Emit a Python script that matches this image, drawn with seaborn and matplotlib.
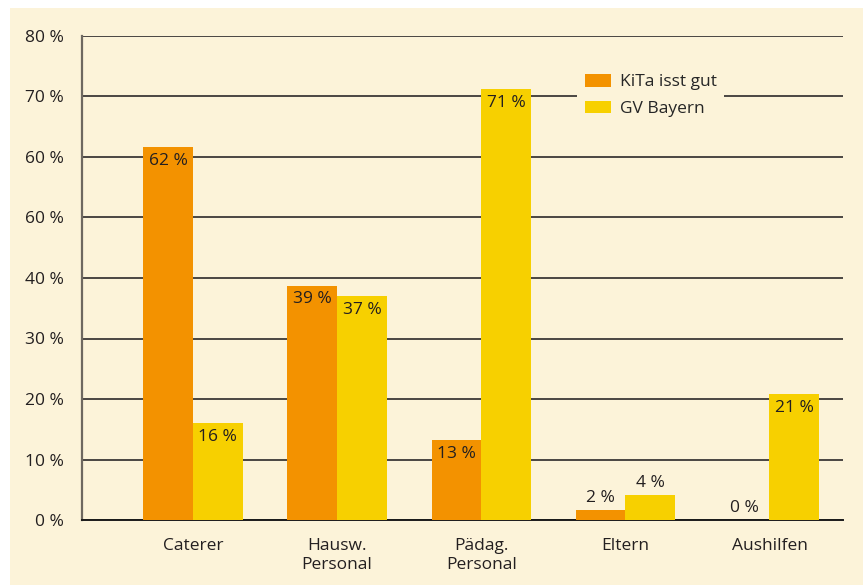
import pandas as pd
import matplotlib.pyplot as plt
import seaborn as sns
from matplotlib.patches import Rectangle

# data
categories = ["Caterer", "Hausw.\nPersonal", "Pädag.\nPersonal", "Eltern", "Aushilfen"]
kita = [61.6, 38.7, 13.2, 1.7, 0.0]
gv = [16.0, 37.0, 71.2, 4.1, 20.8]
series = ["KiTa isst gut", "GV Bayern"]
yticks = [0, 10, 20, 30, 40, 50, 60, 70, 80]
ytick_labels = ["0 %", "10 %", "20 %", "30 %", "40 %", "60 %", "60 %", "70 %", "80 %"]

bg = "#fcf3d9"
orange = "#f39200"
yellow = "#f7d000"
txtcol = "#231f20"

df = pd.DataFrame({
    "cat": categories * 2,
    "val": kita + gv,
    "series": [series[0]] * len(categories) + [series[1]] * len(categories),
})

sns.set_style("white")
plt.rcParams["font.family"] = ["Open Sans", "DejaVu Sans"]

W, H = 867, 585
fig = plt.figure(figsize=(W / 100, H / 100), dpi=100)
fig.patch.set_facecolor("white")
fig.patches.append(Rectangle((10 / W, 0), 853 / W, 1 - 8 / H, transform=fig.transFigure,
                             facecolor=bg, edgecolor="none", zorder=-10))

ax = fig.add_axes([82 / W, 1 - 520 / H, (843 - 82) / W, (520 - 36) / H])
ax.set_facecolor(bg)

sns.barplot(data=df, x="cat", y="val", hue="series", palette=[orange, yellow],
            saturation=1, width=0.69, linewidth=0, edgecolor="none",
            ax=ax, zorder=3, legend=True)

ax.set_ylim(0, 80)
ax.set_xlim(-0.77, 4.51)
ax.set_yticks(yticks)
ax.set_yticklabels(ytick_labels)
ax.grid(axis="y", color="#4a4642", linewidth=1.4, zorder=1)
ax.set_axisbelow(True)
ax.set_xlabel("")
ax.set_ylabel("")

for s in ["top", "right"]:
    ax.spines[s].set_visible(False)
ax.spines["left"].set_color("#6e6860")
ax.spines["left"].set_linewidth(1.6)
ax.spines["bottom"].set_color("#1a1a1a")
ax.spines["bottom"].set_linewidth(1.4)

ax.tick_params(axis="y", length=5, width=1.4, color="#4a4642", pad=8, labelsize=12.5, labelcolor=txtcol)
ax.tick_params(axis="x", length=0, pad=13, labelsize=12.5, labelcolor=txtcol)
for lab in ax.get_xticklabels():
    lab.set_linespacing(1.25)

# value labels
for cont in ax.containers:
    for bar in cont:
        h = bar.get_height()
        x = bar.get_x() + bar.get_width() / 2
        txt = f"{h:.0f} %"
        if h > 8:
            ax.annotate(txt, (x, h), xytext=(0, -4), textcoords="offset points",
                        ha="center", va="top", fontsize=12.5, color=txtcol, zorder=5)
        else:
            ax.annotate(txt, (x, h), xytext=(0, 3), textcoords="offset points",
                        ha="center", va="bottom", fontsize=12.5, color=txtcol, zorder=5)

leg = ax.legend(loc="upper left", bbox_to_anchor=(577 / W, 1 - 66 / H),
                bbox_transform=fig.transFigure, frameon=True, fontsize=12.5,
                handlelength=1.5, handleheight=0.75, borderpad=0.45, labelspacing=0.6,
                handletextpad=0.5, borderaxespad=0)
leg.get_frame().set_facecolor(bg)
leg.get_frame().set_edgecolor("none")
leg.get_frame().set_alpha(1)
leg.get_frame().set_boxstyle("square", pad=0)
leg.set_zorder(6)

fig.savefig("out.png", dpi=100, facecolor=fig.get_facecolor())
